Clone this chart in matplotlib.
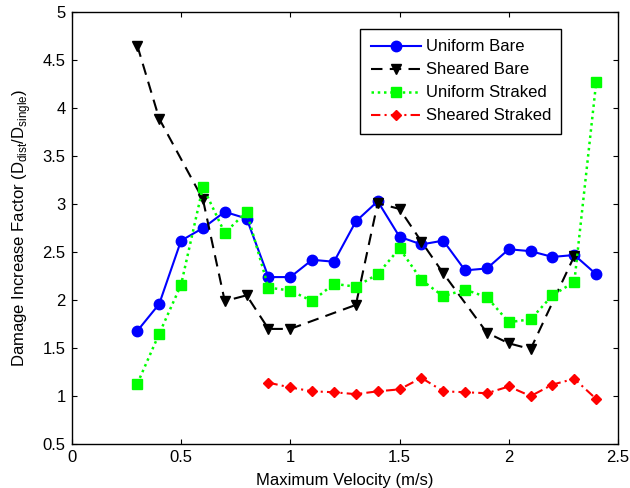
import matplotlib
matplotlib.use("Agg")
import matplotlib.pyplot as plt
import numpy as np

plt.rcParams['font.family'] = ['Liberation Sans', 'DejaVu Sans']
plt.rcParams['mathtext.fontset'] = 'custom'
plt.rcParams['mathtext.rm'] = 'Liberation Sans'

# Uniform flow, bare riser
x_ub = [0.3, 0.4, 0.5, 0.6, 0.7, 0.8, 0.9, 1.0, 1.1, 1.2, 1.3, 1.4, 1.5, 1.6, 1.7,
        1.8, 1.9, 2.0, 2.1, 2.2, 2.3, 2.4]
y_ub = [1.68, 1.96, 2.62, 2.75, 2.92, 2.85, 2.24, 2.24, 2.42, 2.40, 2.82, 3.03, 2.66,
        2.58, 2.62, 2.31, 2.33, 2.53, 2.51, 2.45, 2.47, 2.27]

# Sheared flow, bare riser
x_sb = [0.3, 0.4, 0.6, 0.7, 0.8, 0.9, 1.0, 1.3, 1.4, 1.5, 1.6, 1.7, 1.9, 2.0, 2.1, 2.3]
y_sb = [4.65, 3.89, 3.05, 1.99, 2.05, 1.70, 1.70, 1.95, 3.01, 2.95, 2.61, 2.28, 1.66,
        1.55, 1.49, 2.46]

# Uniform flow, straked riser
x_us = [0.3, 0.4, 0.5, 0.6, 0.7, 0.8, 0.9, 1.0, 1.1, 1.2, 1.3, 1.4, 1.5, 1.6, 1.7,
        1.8, 1.9, 2.0, 2.1, 2.2, 2.3, 2.4]
y_us = [1.13, 1.65, 2.16, 3.18, 2.70, 2.92, 2.13, 2.10, 1.99, 2.17, 2.14, 2.27, 2.54,
        2.21, 2.04, 2.11, 2.03, 1.77, 1.80, 2.05, 2.19, 4.27]

# Sheared flow, straked riser
x_ss = [0.9, 1.0, 1.1, 1.2, 1.3, 1.4, 1.5, 1.6, 1.7, 1.8, 1.9, 2.0, 2.1, 2.2, 2.3, 2.4]
y_ss = [1.14, 1.09, 1.05, 1.04, 1.02, 1.05, 1.07, 1.19, 1.05, 1.04, 1.03, 1.10, 1.00,
        1.12, 1.18, 0.97]

x_ticks = [0, 0.5, 1, 1.5, 2, 2.5]
x_ticklabels = ['0', '0.5', '1', '1.5', '2', '2.5']
y_ticks = [0.5, 1, 1.5, 2, 2.5, 3, 3.5, 4, 4.5, 5]
y_ticklabels = ['0.5', '1', '1.5', '2', '2.5', '3', '3.5', '4', '4.5', '5']

fig = plt.figure(figsize=(6.3, 4.88), dpi=100)
ax = fig.add_axes([0.114, 0.090, 0.867, 0.885])

ax.plot(x_ub, y_ub, color=(0, 0, 1), linestyle='-', linewidth=1.5,
        marker='o', markersize=7.5, label='Uniform Bare')
ax.plot(x_sb, y_sb, color='black', linestyle=(0, (5.5, 3.5)), linewidth=1.5,
        marker='v', markersize=7.5, label='Sheared Bare')
ax.plot(x_us, y_us, color=(0, 1, 0), linestyle=(0, (1, 1.5)), linewidth=1.8,
        marker='s', markersize=6.7, label='Uniform Straked')
ax.plot(x_ss, y_ss, color=(1, 0, 0), linestyle=(0, (4.5, 2, 1, 2)), linewidth=1.5,
        marker='D', markersize=5, label='Sheared Straked')

ax.set_xlim(0, 2.5)
ax.set_ylim(0.5, 5)
ax.set_xticks(x_ticks)
ax.set_xticklabels(x_ticklabels)
ax.set_yticks(y_ticks)
ax.set_yticklabels(y_ticklabels)
ax.tick_params(direction='in', top=True, right=True, length=3.5, width=0.8,
               labelsize=12, pad=4.5)
for sp in ax.spines.values():
    sp.set_linewidth(1.0)

ax.set_xlabel('Maximum Velocity (m/s)', fontsize=12, labelpad=5.5)
ax.set_ylabel(r'Damage Increase Factor (D$_{\mathrm{dist}}$/D$_{\mathrm{single}}$)',
              fontsize=12, labelpad=7)

leg = ax.legend(loc='upper right', bbox_to_anchor=(0.896, 0.961), fontsize=12,
                frameon=True, fancybox=False, framealpha=1, edgecolor='black',
                handlelength=3.0, labelspacing=0.48, borderpad=0.62,
                handletextpad=0.3, borderaxespad=0)
leg.get_frame().set_linewidth(1.0)

fig.savefig('out.png', dpi=100)
